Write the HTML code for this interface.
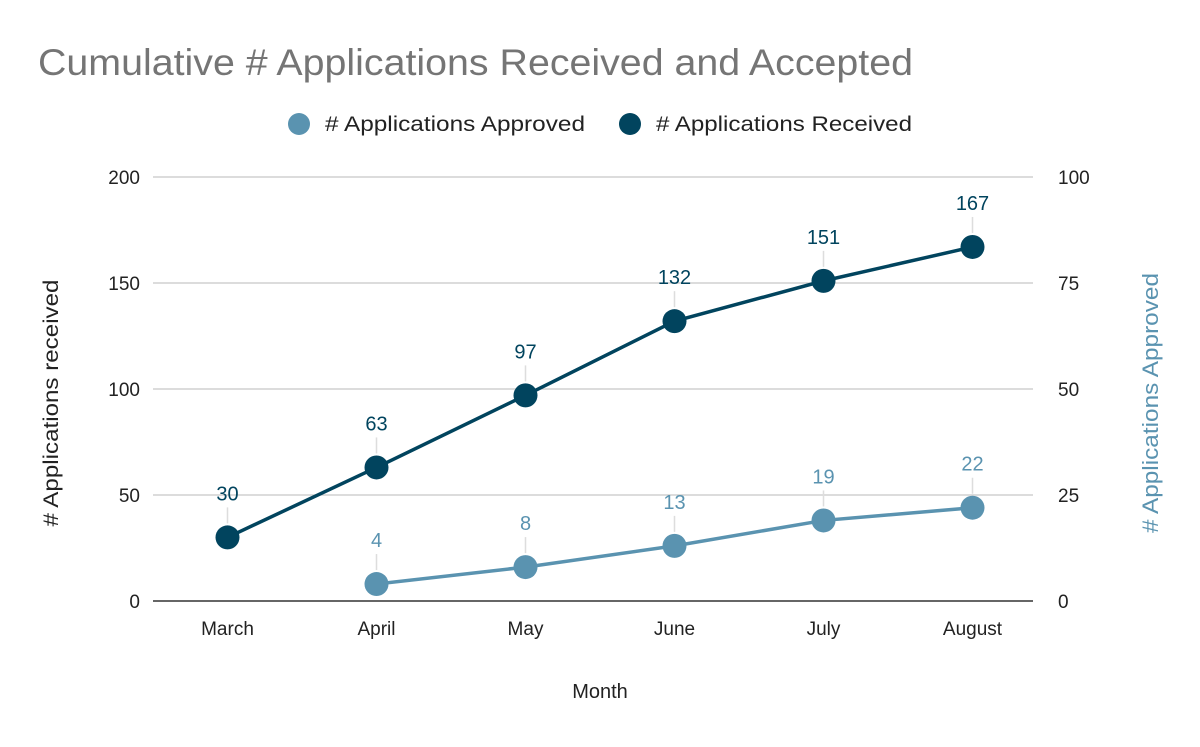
<!DOCTYPE html>
<html><head><meta charset="utf-8"><style>
body{margin:0;background:#fff;}
svg text{font-family:"Liberation Sans",Arial,sans-serif;}
</style></head><body>
<svg id="chart" width="1200" height="742" xmlns="http://www.w3.org/2000/svg">
<rect width="1200" height="742" fill="#fff"/>
<text x="38" y="75" font-size="37" textLength="875" lengthAdjust="spacingAndGlyphs" fill="#757575">Cumulative # Applications Received and Accepted</text>
<g>
<g><circle cx="299" cy="124" r="11" fill="#5a93b0"/><text x="325" y="131" font-size="21" textLength="260" lengthAdjust="spacingAndGlyphs" fill="#222"># Applications Approved</text></g>
<g><circle cx="630" cy="124" r="11" fill="#01445e"/><text x="656" y="131" font-size="21" textLength="256" lengthAdjust="spacingAndGlyphs" fill="#222"># Applications Received</text></g>
</g>
<g id="grid"></g>
<g id="marks"></g>
<text x="600" y="698" font-size="20" text-anchor="middle" fill="#222">Month</text>
<text transform="translate(58,403) rotate(-90)" font-size="21" text-anchor="middle" textLength="247" lengthAdjust="spacingAndGlyphs" fill="#222"># Applications received</text>
<text transform="translate(1158,403) rotate(-90)" font-size="22" text-anchor="middle" textLength="260" lengthAdjust="spacingAndGlyphs" fill="#5a93b0"># Applications Approved</text>
</svg>
<script>
const categories=["March","April","May","June","July","August"];
const received=[30,63,97,132,151,167];
const approved=[null,4,8,13,19,22];
const leftTicks=[0,50,100,150,200];
const rightTicks=[0,25,50,75,100];
const NS="http://www.w3.org/2000/svg";
const L=153,R=1047,T=177,B=601;
const xs=i=>L+(R-L)/categories.length*(i+0.5);
const yl=v=>B-(v/200)*(B-T);
const yr=v=>B-(v/100)*(B-T);
function mk(tag,attrs,parent,txt){const e=document.createElementNS(NS,tag);for(const k in attrs)e.setAttribute(k,attrs[k]);if(txt!==undefined)e.textContent=txt;parent.appendChild(e);return e;}
const grid=document.getElementById('grid'),marks=document.getElementById('marks');
leftTicks.forEach((t,i)=>{
 const y=yl(t);
 const g=mk('line',{x1:L,x2:R-14,y1:y,y2:y,stroke:t===0?'#333':'#c8c8c8','stroke-width':t===0?1.5:1.2},grid);
 
 
 const a=mk('text',{x:140,y:y+7,'font-size':19,'text-anchor':'end',fill:'#222'},grid,t);
 
 
 const b=mk('text',{x:1058,y:yr(rightTicks[i])+7,'font-size':19,fill:'#222'},grid,rightTicks[i]);
 
 
});
categories.forEach((c,i)=>{
 const t=mk('text',{x:xs(i),y:635,'font-size':19,'text-anchor':'middle',fill:'#222'},grid,c);
 
 
});
function series(vals,yf,color,name){
 const pts=[];vals.forEach((v,i)=>{if(v!==null)pts.push([xs(i),yf(v),v]);});
 const p=mk('polyline',{points:pts.map(p=>p[0]+','+p[1]).join(' '),fill:'none',stroke:color,'stroke-width':3.5},marks);
 
 
 pts.forEach(([x,y,v])=>{
  const l=mk('line',{x1:x,x2:x,y1:y-14,y2:y-30,stroke:'#ddd','stroke-width':1.5},marks);
  
  
  const c=mk('circle',{cx:x,cy:y,r:12,fill:color},marks);
  
  
  const t=mk('text',{x:x,y:y-37,'font-size':20,'text-anchor':'middle',fill:color},marks,v);
  
  
 });
}
series(approved,yr,'#5a93b0','approved');
series(received,yl,'#01445e','received');
</script>
</body></html>
